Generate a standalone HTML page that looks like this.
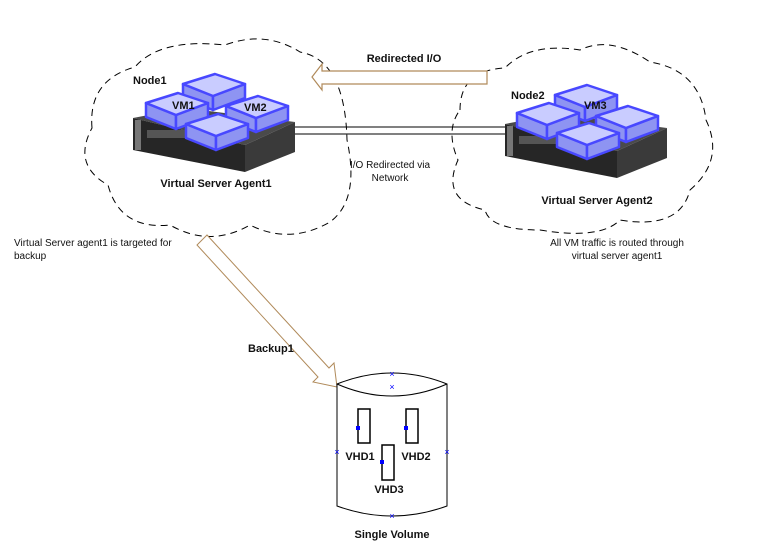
<!DOCTYPE html>
<html><head><meta charset="utf-8"><style>
html,body{margin:0;padding:0;background:#fff;}
svg{display:block;font-family:"Liberation Sans",sans-serif;}
.b{font-weight:bold;font-size:11px;fill:#111;}
.n{font-size:10px;fill:#111;}
.vt{fill:#c9ccff;stroke:#4848ff;stroke-width:2.5;stroke-linejoin:round;}
.vs{fill:#8e94f2;stroke:#4848ff;stroke-width:2.5;stroke-linejoin:round;}
</style></head><body>
<svg width="771" height="559" viewBox="0 0 771 559">
<defs>
<g id="vm">
<polygon class="vs" points="0,10 30,22 30,36 0,24"/>
<polygon class="vs" points="30,22 62,10 62,24 30,36"/>
<polygon class="vt" points="0,10 32,0 62,10 30,22"/>
</g>
<g id="srv">
<polygon points="0,10 52,0 162,14 112,37" fill="#4a4a4a"/>
<polygon points="0,10 112,37 112,64 0,42" fill="#262626"/>
<polygon points="112,37 162,14 162,44 112,64" fill="#3a3a3a"/>
<rect x="2" y="12" width="6" height="30" fill="#777"/>
<rect x="14" y="22" width="50" height="8" fill="#555"/>
</g>
</defs>
<rect width="771" height="559" fill="#fff"/>
<path d="M 92,128 Q 88,80 135,67 Q 160,38 225,45 Q 265,30 300,52 Q 345,60 347,140 Q 360,200 330,222 Q 290,245 250,225 Q 210,248 170,225 Q 120,230 108,185 Q 72,165 92,128 Z" fill="none" stroke="#000" stroke-dasharray="7,5"/>
<path d="M 460,110 Q 460,70 505,68 Q 530,42 580,50 Q 610,35 650,62 Q 700,70 706,120 Q 725,160 690,190 Q 680,230 620,220 Q 600,240 540,230 Q 490,230 485,210 Q 440,200 458,160 Q 445,130 460,110 Z" fill="none" stroke="#000" stroke-dasharray="7,5"/>
<line x1="292" y1="127" x2="512" y2="127" stroke="#000"/>
<line x1="292" y1="134" x2="512" y2="134" stroke="#000"/>
<polygon points="487,71 322,71 322,64 312,77 322,90 322,84 487,84" fill="#fff" stroke="#b08a5a" stroke-width="1.2"/>
<polygon points="207,235 329,368 334,363 337,387 313,382 318,377 197,245" fill="#fff" stroke="#b08a5a" stroke-width="1"/>
<!-- server 1 -->
<use href="#srv" x="133" y="108"/>
<use href="#vm" x="183" y="74"/>
<use href="#vm" x="146" y="93"/>
<use href="#vm" x="226" y="96"/>
<use href="#vm" x="186" y="114"/>
<!-- server 2 -->
<use href="#srv" x="505" y="114"/>
<use href="#vm" x="555" y="85"/>
<use href="#vm" x="517" y="103"/>
<use href="#vm" x="596" y="106"/>
<use href="#vm" x="557" y="123"/>
<text x="133" y="84" class="b">Node1</text>
<text x="172" y="109" class="b">VM1</text>
<text x="244" y="111" class="b">VM2</text>
<text x="216" y="187" class="b" text-anchor="middle">Virtual Server Agent1</text>
<text x="511" y="99" class="b">Node2</text>
<text x="584" y="109" class="b">VM3</text>
<text x="597" y="204" class="b" text-anchor="middle">Virtual Server Agent2</text>
<text x="404" y="62" class="b" text-anchor="middle">Redirected I/O</text>
<text x="390" y="168" class="n" text-anchor="middle">I/O Redirected via</text>
<text x="390" y="181" class="n" text-anchor="middle">Network</text>
<text x="14" y="246" class="n">Virtual Server agent1 is targeted for</text>
<text x="14" y="259" class="n">backup</text>
<text x="617" y="246" class="n" text-anchor="middle">All VM traffic is routed through</text>
<text x="617" y="259" class="n" text-anchor="middle">virtual server agent1</text>
<text x="248" y="352" class="b">Backup1</text>
<path d="M 337,384 Q 392,362 447,384 L 447,506 Q 392,526 337,506 Z" fill="#fff" stroke="#000"/>
<path d="M 337,384 Q 392,408 447,384" fill="none" stroke="#000"/>
<g fill="#fff" stroke="#000" stroke-width="1.5">
<rect x="358" y="409" width="12" height="34"/>
<rect x="406" y="409" width="12" height="34"/>
<rect x="382" y="445" width="12" height="35"/>
</g>
<g fill="#0000ff">
<rect x="356" y="426" width="4" height="4"/>
<rect x="404" y="426" width="4" height="4"/>
<rect x="380" y="460" width="4" height="4"/>
</g>
<g fill="#0000ff" font-size="9" text-anchor="middle" font-family="Liberation Sans">
<text x="392" y="377">×</text><text x="392" y="390">×</text>
<text x="337" y="455">×</text><text x="447" y="455">×</text>
<text x="392" y="519">×</text>
</g>
<text x="360" y="460" class="b" text-anchor="middle">VHD1</text>
<text x="416" y="460" class="b" text-anchor="middle">VHD2</text>
<text x="389" y="493" class="b" text-anchor="middle">VHD3</text>
<text x="392" y="538" class="b" text-anchor="middle">Single Volume</text>
</svg>
</body></html>
